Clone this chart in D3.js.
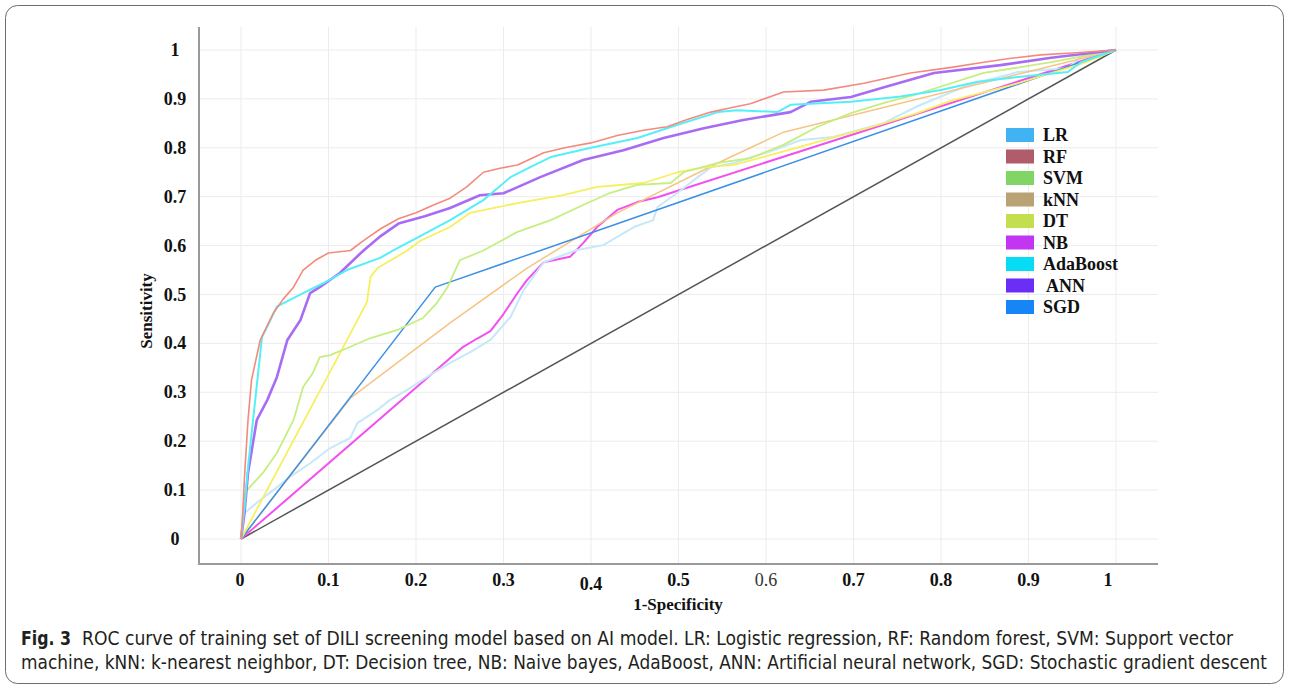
<!DOCTYPE html>
<html>
<head>
<meta charset="utf-8">
<script src="https://cdn.jsdelivr.net/npm/d3@7"></script>
<style>
  html, body { margin: 0; padding: 0; background: #fff; }
  svg { display: block; }
</style>
</head>
<body>
<div id="chart"></div>
<script>
// ROC points (fpr = 1-specificity, tpr = sensitivity)
const rfFpr = [0, 0.002, 0.004, 0.008, 0.012, 0.022, 0.037, 0.048, 0.06, 0.071, 0.085, 0.1, 0.125, 0.14, 0.16, 0.18, 0.2, 0.22, 0.239, 0.258, 0.277, 0.296, 0.316, 0.346, 0.37, 0.4, 0.43, 0.46, 0.487, 0.51, 0.537, 0.56, 0.582, 0.62, 0.666, 0.712, 0.765, 0.81, 0.849, 0.88, 0.914, 0.95, 1]
const rfTpr = [0, 0.053, 0.127, 0.243, 0.325, 0.407, 0.462, 0.49, 0.515, 0.55, 0.57, 0.585, 0.59, 0.61, 0.635, 0.655, 0.667, 0.683, 0.697, 0.72, 0.75, 0.758, 0.765, 0.79, 0.8, 0.81, 0.825, 0.836, 0.843, 0.858, 0.873, 0.882, 0.89, 0.914, 0.918, 0.932, 0.953, 0.964, 0.975, 0.983, 0.99, 0.994, 1]

const adaFpr = [0, 0.004, 0.008, 0.024, 0.041, 0.071, 0.094, 0.121, 0.159, 0.174, 0.2, 0.239, 0.277, 0.308, 0.33, 0.354, 0.4, 0.453, 0.499, 0.545, 0.567, 0.613, 0.628, 0.697, 0.754, 0.8, 0.842, 0.888, 0.945, 0.96, 1]
const adaTpr = [0, 0.065, 0.147, 0.413, 0.475, 0.503, 0.523, 0.55, 0.575, 0.59, 0.615, 0.652, 0.693, 0.74, 0.76, 0.781, 0.8, 0.82, 0.847, 0.873, 0.877, 0.873, 0.888, 0.894, 0.905, 0.918, 0.935, 0.945, 0.955, 0.975, 1]

const annFpr = [0, 0.004, 0.008, 0.014, 0.018, 0.03, 0.041, 0.053, 0.068, 0.079, 0.09, 0.113, 0.14, 0.16, 0.18, 0.21, 0.239, 0.273, 0.3, 0.342, 0.391, 0.437, 0.483, 0.529, 0.574, 0.628, 0.651, 0.697, 0.735, 0.792, 0.868, 0.926, 1]
const annTpr = [0, 0.053, 0.135, 0.2, 0.243, 0.284, 0.331, 0.407, 0.448, 0.503, 0.515, 0.544, 0.59, 0.62, 0.645, 0.66, 0.677, 0.703, 0.707, 0.74, 0.775, 0.795, 0.82, 0.84, 0.857, 0.873, 0.894, 0.904, 0.924, 0.953, 0.969, 0.984, 1]

const svmFpr = [0, 0.004, 0.01, 0.025, 0.041, 0.06, 0.071, 0.082, 0.09, 0.102, 0.121, 0.148, 0.178, 0.208, 0.224, 0.236, 0.25, 0.277, 0.316, 0.354, 0.391, 0.422, 0.453, 0.491, 0.506, 0.545, 0.582, 0.62, 0.659, 0.697, 0.735, 0.773, 0.849, 0.926, 1]
const svmTpr = [0, 0.094, 0.106, 0.135, 0.176, 0.243, 0.311, 0.339, 0.372, 0.376, 0.39, 0.411, 0.427, 0.452, 0.483, 0.515, 0.57, 0.59, 0.628, 0.652, 0.683, 0.708, 0.724, 0.728, 0.75, 0.769, 0.779, 0.806, 0.843, 0.871, 0.892, 0.91, 0.953, 0.975, 1]

const dtFpr = [0, 0.13, 0.144, 0.148, 0.156, 0.178, 0.19, 0.205, 0.239, 0.262, 0.316, 0.368, 0.407, 0.46, 0.499, 0.529, 0.563, 0.605, 0.659, 0.716, 0.773, 0.811, 0.888, 0.963, 1]
const dtTpr = [0, 0.437, 0.485, 0.536, 0.554, 0.577, 0.59, 0.61, 0.638, 0.667, 0.687, 0.703, 0.72, 0.728, 0.75, 0.76, 0.765, 0.785, 0.812, 0.84, 0.871, 0.896, 0.932, 0.973, 1]

const knnFpr = [0, 0.125, 0.239, 0.327, 0.43, 0.545, 0.62, 1]
const knnTpr = [0, 0.288, 0.442, 0.554, 0.667, 0.769, 0.832, 1]

const nbFpr = [0, 0.254, 0.27, 0.285, 0.3, 0.316, 0.327, 0.346, 0.376, 0.391, 0.407, 0.43, 0.453, 0.476, 1]
const nbTpr = [0, 0.393, 0.41, 0.425, 0.46, 0.503, 0.53, 0.566, 0.577, 0.605, 0.638, 0.673, 0.689, 0.699, 1]

const lrFpr = [0, 0.004, 0.018, 0.037, 0.056, 0.079, 0.102, 0.125, 0.133, 0.156, 0.17, 0.19, 0.216, 0.239, 0.262, 0.285, 0.308, 0.323, 0.346, 0.384, 0.414, 0.449, 0.471, 0.476, 0.499, 0.522, 0.537, 0.563, 0.602, 0.64, 0.677, 0.735, 0.773, 0.831, 0.888, 0.945, 0.96, 1]
const lrTpr = [0, 0.053, 0.074, 0.1, 0.127, 0.155, 0.186, 0.207, 0.237, 0.264, 0.284, 0.305, 0.335, 0.36, 0.382, 0.407, 0.454, 0.509, 0.566, 0.591, 0.601, 0.638, 0.652, 0.679, 0.708, 0.74, 0.76, 0.769, 0.791, 0.816, 0.822, 0.851, 0.885, 0.928, 0.955, 0.963, 0.986, 1]

const sgdFpr = [0, 0.222, 1]
const sgdTpr = [0, 0.515, 1]

const chanceFpr = [0, 1]
const chanceTpr = [0, 1]

const tickValues = [0, 0.1, 0.2, 0.3, 0.4, 0.5, 0.6, 0.7, 0.8, 0.9, 1]
const tickLabels = ["0", "0.1", "0.2", "0.3", "0.4", "0.5", "0.6", "0.7", "0.8", "0.9", "1"]

const legendNames = ["LR", "RF", "SVM", "kNN", "DT", "NB", "AdaBoost", "ANN", "SGD"]
const legendColors = ["#41b3f3", "#b05c6b", "#80d565", "#b9a273", "#c3df4f", "#c236f2", "#07dcf5", "#6b2ef6", "#1686f6"]

// drawing order: back to front
const curves = [
  { fpr: chanceFpr, tpr: chanceTpr, color: "#555555", width: 1.5 },
  { fpr: nbFpr, tpr: nbTpr, color: "#f24ff0", width: 2 },
  { fpr: lrFpr, tpr: lrTpr, color: "#c6e8f9", width: 2 },
  { fpr: knnFpr, tpr: knnTpr, color: "#f6c483", width: 1.5 },
  { fpr: sgdFpr, tpr: sgdTpr, color: "#3a90e6", width: 1.5 },
  { fpr: dtFpr, tpr: dtTpr, color: "#f6ef5e", width: 1.8 },
  { fpr: svmFpr, tpr: svmTpr, color: "#c6ee80", width: 1.8 },
  { fpr: annFpr, tpr: annTpr, color: "#a86cf4", width: 2.6 },
  { fpr: adaFpr, tpr: adaTpr, color: "#55eff7", width: 2 },
  { fpr: rfFpr, tpr: rfTpr, color: "#f48a7c", width: 1.6 },
]

const W = 1290
const H = 686
const serif = "'Liberation Serif', 'Times New Roman', serif"

const svg = d3.select("#chart")
  .append("svg")
  .attr("width", W)
  .attr("height", H)

// figure frame
svg.append("rect")
  .attr("x", 5.5)
  .attr("y", 5.5)
  .attr("width", 1278)
  .attr("height", 678)
  .attr("rx", 12)
  .attr("fill", "none")
  .attr("stroke", "#6e6e6e")
  .attr("stroke-width", 1)

const x = d3.scaleLinear().domain([0, 1]).range([241, 1116])
const y = d3.scaleLinear().domain([0, 1]).range([539, 50])

const plotLeft = 199
const plotRight = 1158
const plotTop = 27
const plotBottom = 564

// grid
const grid = svg.append("g").attr("stroke", "#ececec").attr("stroke-width", 1)
grid.selectAll("line.v")
  .data(tickValues)
  .join("line")
  .attr("class", "v")
  .attr("x1", d => x(d)).attr("x2", d => x(d))
  .attr("y1", plotTop).attr("y2", plotBottom)
grid.selectAll("line.h")
  .data(tickValues)
  .join("line")
  .attr("class", "h")
  .attr("x1", plotLeft).attr("x2", plotRight)
  .attr("y1", d => y(d)).attr("y2", d => y(d))

// curves
const line = d3.line().x(d => x(d[0])).y(d => y(d[1]))
svg.append("g")
  .selectAll("path")
  .data(curves)
  .join("path")
  .attr("d", c => line(d3.zip(c.fpr, c.tpr)))
  .attr("fill", "none")
  .attr("stroke", c => c.color)
  .attr("stroke-width", c => c.width)
  .attr("stroke-linejoin", "round")

// axis lines
svg.append("line")
  .attr("x1", plotLeft).attr("x2", plotLeft)
  .attr("y1", plotTop).attr("y2", plotBottom + 1)
  .attr("stroke", "#9a9a9a").attr("stroke-width", 2)
svg.append("line")
  .attr("x1", plotLeft).attr("x2", plotRight)
  .attr("y1", plotBottom).attr("y2", plotBottom)
  .attr("stroke", "#9a9a9a").attr("stroke-width", 2)

// tick labels
svg.append("g")
  .selectAll("text")
  .data(tickValues)
  .join("text")
  .attr("x", (d, i) => x(d) + (i === 10 ? -8 : i === 0 ? -1 : 0))
  .attr("y", (d, i) => i === 4 ? 590 : 586)
  .attr("text-anchor", "middle")
  .attr("font-family", serif)
  .attr("font-size", 18)
  .attr("font-weight", (d, i) => i === 6 ? "normal" : "bold")
  .attr("fill", (d, i) => i === 6 ? "#333" : "#111")
  .text((d, i) => tickLabels[i])

svg.append("g")
  .selectAll("text")
  .data(tickValues)
  .join("text")
  .attr("x", 175)
  .attr("y", d => y(d) + 6)
  .attr("text-anchor", "middle")
  .attr("font-family", serif)
  .attr("font-size", 18)
  .attr("font-weight", "bold")
  .attr("fill", "#111")
  .text((d, i) => tickLabels[i])

// axis titles
svg.append("text")
  .attr("x", 678)
  .attr("y", 610)
  .attr("text-anchor", "middle")
  .attr("font-family", serif)
  .attr("font-size", 17)
  .attr("font-weight", "bold")
  .attr("fill", "#111")
  .text("1-Specificity")

svg.append("text")
  .attr("transform", "translate(152,311) rotate(-90)")
  .attr("text-anchor", "middle")
  .attr("font-family", serif)
  .attr("font-size", 17)
  .attr("font-weight", "bold")
  .attr("fill", "#111")
  .text("Sensitivity")

// legend
const legend = svg.append("g")
  .selectAll("g")
  .data(legendNames)
  .join("g")
  .attr("transform", (d, i) => `translate(1006, ${128 + i * 21.5})`)
legend.append("rect")
  .attr("width", 28)
  .attr("height", 14)
  .attr("fill", (d, i) => legendColors[i])
legend.append("text")
  .attr("x", d => d === "ANN" ? 40 : 37)
  .attr("y", 13)
  .attr("font-family", serif)
  .attr("font-size", 18)
  .attr("font-weight", "bold")
  .attr("fill", "#111")
  .text(d => d)

// caption
const capFont = "'Liberation Sans Narrow', 'DejaVu Sans Condensed', 'Open Sans', sans-serif"
svg.append("text")
  .attr("x", 21).attr("y", 645)
  .attr("font-family", capFont)
  .attr("font-size", 19)
  .attr("font-weight", "bold")
  .attr("fill", "#231f20")
  .attr("textLength", 50)
  .attr("lengthAdjust", "spacingAndGlyphs")
  .text("Fig. 3")
svg.append("text")
  .attr("x", 82).attr("y", 645)
  .attr("font-family", capFont)
  .attr("font-size", 19)
  .attr("fill", "#231f20")
  .attr("textLength", 1151)
  .attr("lengthAdjust", "spacingAndGlyphs")
  .text("ROC curve of training set of DILI screening model based on AI model. LR: Logistic regression, RF: Random forest, SVM: Support vector")
svg.append("text")
  .attr("x", 21).attr("y", 669)
  .attr("font-family", capFont)
  .attr("font-size", 19)
  .attr("fill", "#231f20")
  .attr("textLength", 1246)
  .attr("lengthAdjust", "spacingAndGlyphs")
  .text("machine, kNN: k-nearest neighbor, DT: Decision tree, NB: Naive bayes, AdaBoost, ANN: Artificial neural network, SGD: Stochastic gradient descent")
</script>
</body>
</html>
